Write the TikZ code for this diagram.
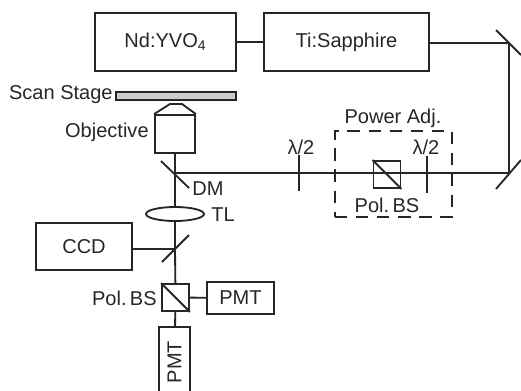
\documentclass[tikz,border=0pt]{standalone}
\usepackage{fontspec}
\setmainfont{Liberation Sans}
\usetikzlibrary{shapes.geometric}

\tikzset{
    optic/.style={line width=1.05pt,draw=black!85},
    unit/.style={optic,rectangle,inner sep=0pt,text=black!85},
    cube/.style={unit,minimum width=0.54cm,minimum height=0.54cm},
    tag/.style={inner sep=0pt,text=black!85}
}

\begin{document}
\begin{tikzpicture}[x=0.02cm,y=-0.02cm,font=\fontsize{11.4}{13}\selectfont]
    \useasboundingbox (0,0) rectangle (521,390);
    \clip (0,0) rectangle (521,390);

    \node[unit,minimum width=2.82cm,minimum height=1.16cm] (ND) at (165.5,42) {Nd:YVO\textsubscript{4}};
    \node[unit,minimum width=3.3cm,minimum height=1.16cm] (TI) at (346.5,42) {Ti:Sapphire};
    \node[unit,minimum width=1.92cm,minimum height=0.94cm] (CCD) at (84,246.5) {CCD};
    \node[unit,minimum width=1.34cm,minimum height=0.64cm] (PMTA) at (240.5,298) {PMT};
    \node[unit,minimum width=0.62cm,minimum height=1.4cm] (PMTB) at (174.5,362) {\rotatebox{90}{PMT}};

    \node[unit,fill=black!20,minimum width=2.4cm,minimum height=0.16cm] (ST) at (176,96) {};
    \node[unit,minimum width=0.8cm,minimum height=0.76cm] (OB) at (175,134) {};
    \coordinate (T1) at (170,104);
    \coordinate (T2) at (182,104);
    \draw[optic] (OB.north west) -- (T1) -- (T2) -- (OB.north east);
    \node[unit,ellipse,minimum width=1.16cm,minimum height=0.28cm] (TL) at (175,214) {};

    \node[cube] (BSA) at (175.5,297.5) {};
    \node[cube] (BSB) at (387,174.5) {};
    \draw[optic] (BSA.north west) -- (BSA.south east);
    \draw[optic] (BSB.north west) -- (BSB.south east);
    \node[unit,dash pattern=on 7pt off 5pt,minimum width=2.34cm,minimum height=1.72cm] (PA) at (393.5,174) {};

    \coordinate (M1) at (509,43);
    \coordinate (M2) at (509,173);
    \coordinate (DM) at (175,173);
    \coordinate (SP) at (175,249);

    % mirrors
    \draw[optic] (496,30) coordinate (M1a) -- (521,55) coordinate (M1b);
    \draw[optic] (496,189) coordinate (M2a) -- (521,160) coordinate (M2b);
    \draw[optic] (161,161) coordinate (DMa) -- (189,188) coordinate (DMb);
    \draw[optic] (162,262) coordinate (SPa) -- (189,235) coordinate (SPb);

    % waveplates
    \draw[optic] (299,155) coordinate (W1a) -- (299,191) coordinate (W1b);
    \draw[optic] (427,156) coordinate (W2a) -- (427,193) coordinate (W2b);

    % beam
    \draw[optic] (ND) -- (TI);
    \draw[optic] (TI.east |- M1) -- (M1) -- (M2) -- (DM);
    \draw[optic] (OB) -- (DM) -- (TL);
    \draw[optic] (TL) -- (SP) -- (BSA);
    \draw[optic] (CCD.east |- SP) -- (SP);
    \draw[optic] (BSA) -- (PMTA);
    \draw[optic] (BSA) -- (PMTB);

    \node[tag,left] (L1) at (113,95) {Scan Stage};
    \node[tag,left] (L2) at (149,132) {Objective};
    \node[tag,right] (L3) at (192,189) {DM};
    \node[tag,right] (L4) at (211,215) {TL};
    \node[tag,left] (L5) at (157,298) {Pol.\,BS};
    \node[tag] (L6) at (393,118) {Power Adj.};
    \node[tag] (L7) at (387,205) {Pol.\,BS};
    \node[tag] (L8) at (301,147) {λ/2};
    \node[tag] (L9) at (426,147) {λ/2};
\end{tikzpicture}
\end{document}
